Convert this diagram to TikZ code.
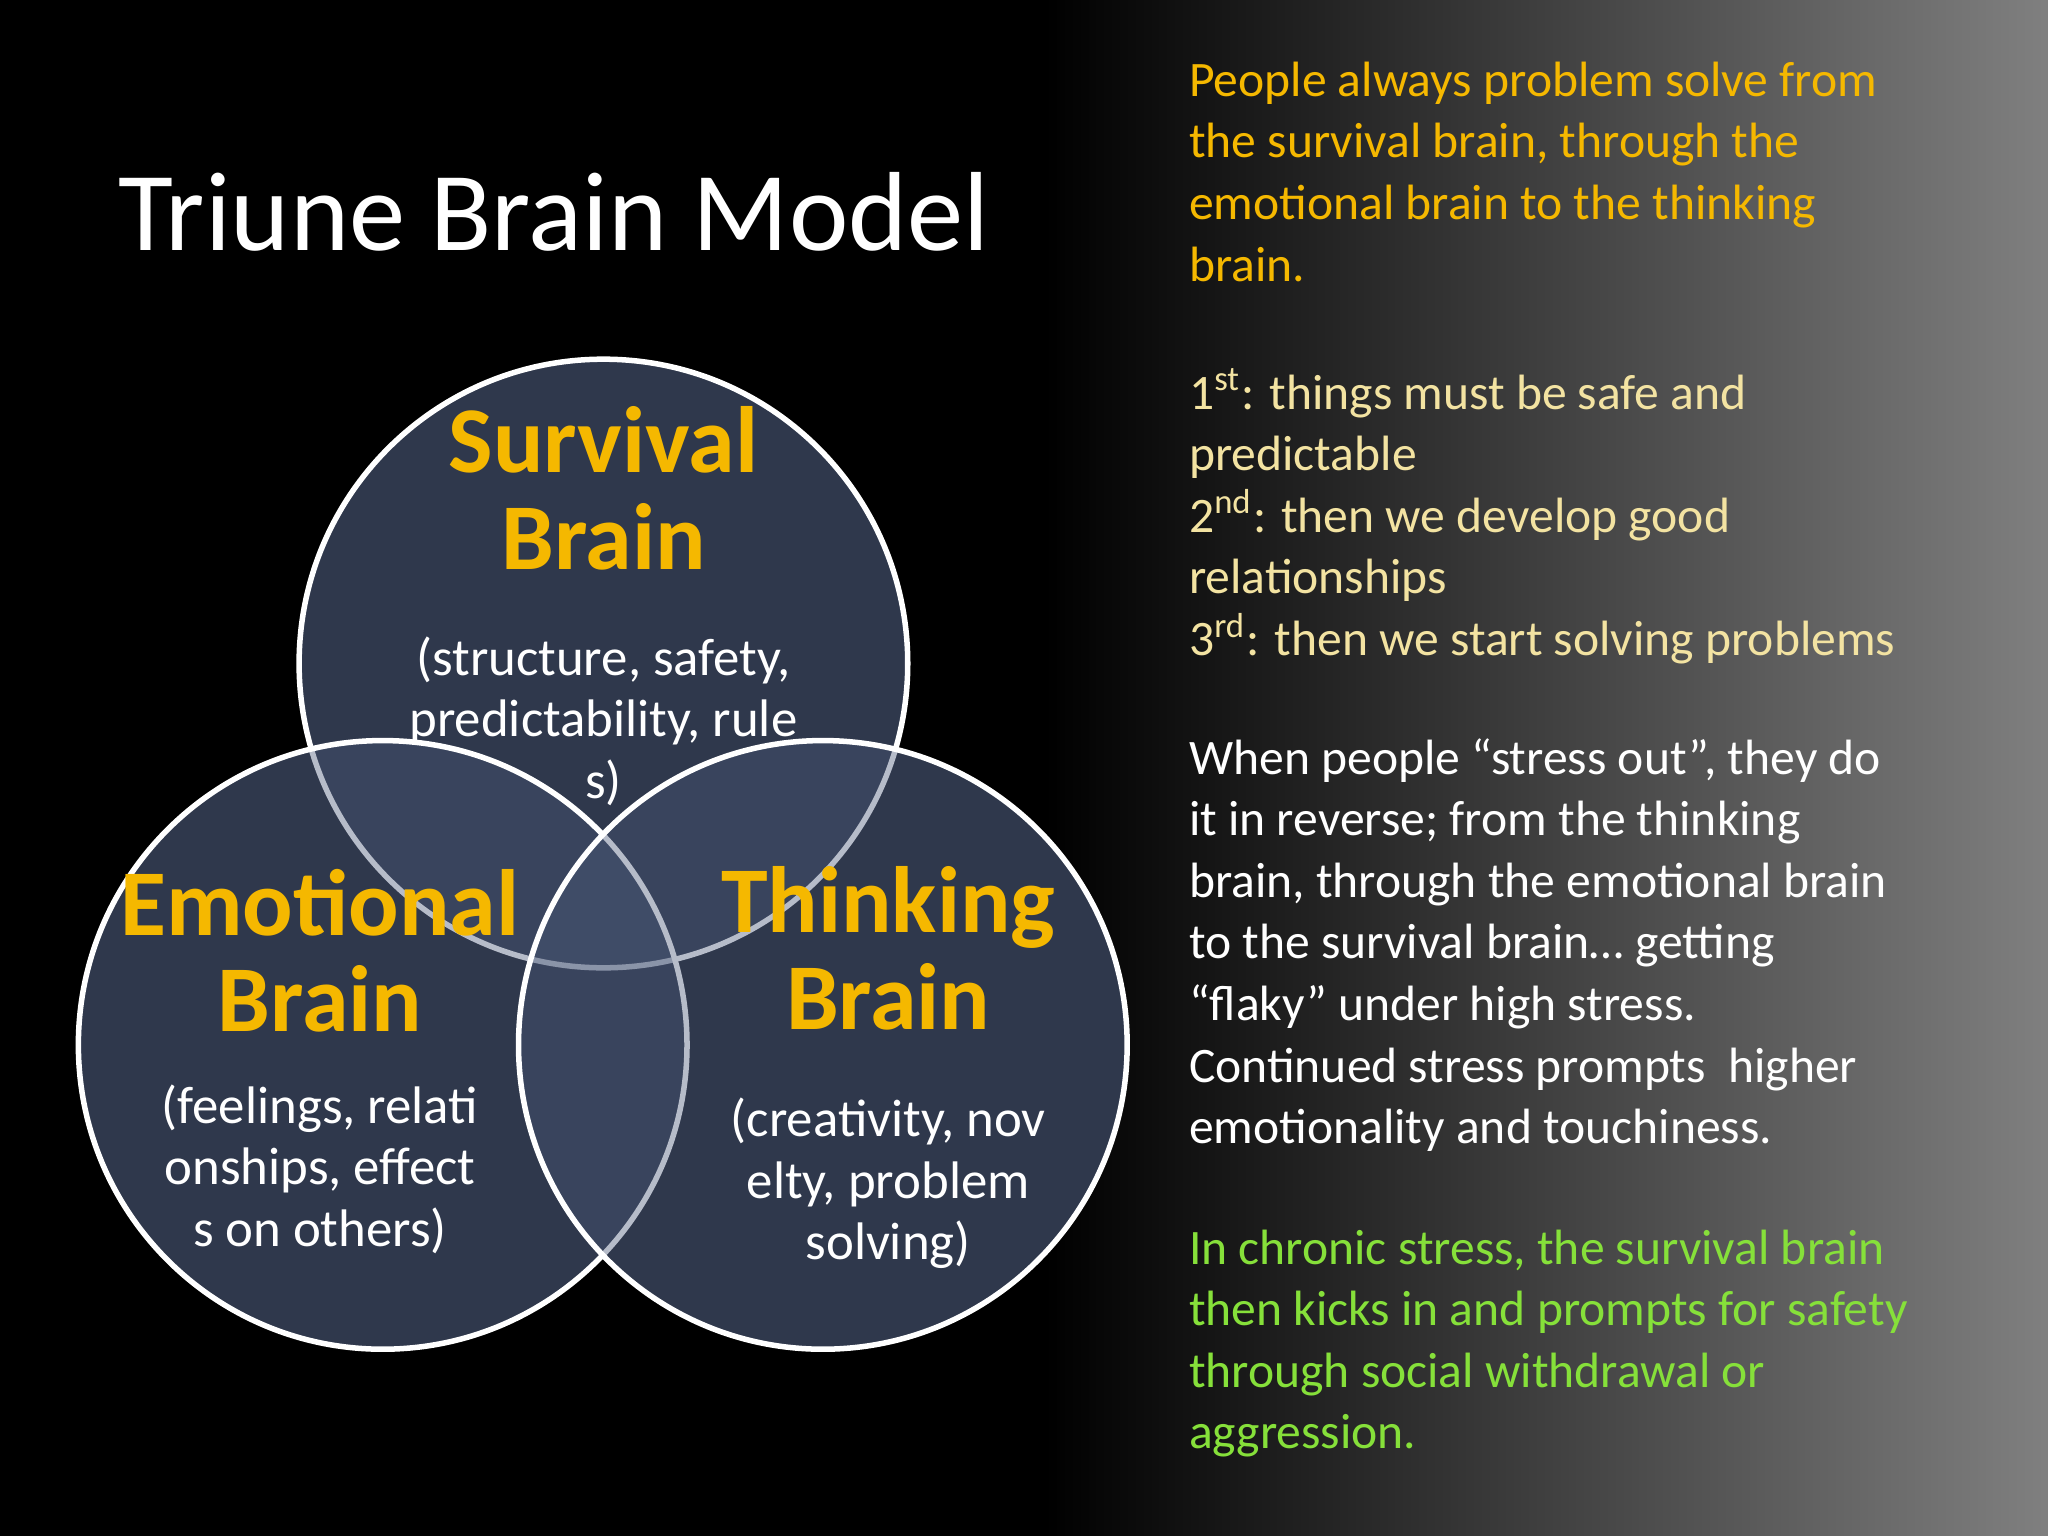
\documentclass[tikz,border=0pt]{standalone}
\usepackage{fontspec}
\setmainfont{Carlito}
\definecolor{gold}{HTML}{F5B800}
\definecolor{pale}{HTML}{F3E3A2}
\definecolor{grn}{HTML}{86E03A}
\definecolor{disc}{HTML}{4A5878}
\definecolor{base}{HTML}{1E2330}
\begin{document}
\begin{tikzpicture}[x=0.01cm,y=-0.01cm,
  circ/.style={draw=white,line width=1.2pt,fill=disc,fill opacity=0.4},
  head/.style={text=gold,font=\fontsize{20.5}{21}\selectfont\bfseries,align=center},
  sub/.style={text=white,font=\fontsize{11.5}{13.4}\selectfont,align=center},
  para/.style={anchor=north west,align=left,font=\fontsize{10.8}{13.4}\selectfont}]
\useasboundingbox (0,0) rectangle (1568,1176);
\fill[black] (0,0) rectangle (1568,1176);
\shade[left color=black,right color=black!50!white] (800,0) rectangle (1568,1176);
\node[anchor=west,text=white,font=\fontsize{24.5}{25}\selectfont] (title) at (78,162) {Triune Brain Model};
\fill[base] (462,508) circle (233) (293,800) circle (233) (630,800) circle (233);
\draw[circ] (462,508) circle (233);
\draw[circ] (293,800) circle (233);
\draw[circ] (630,800) circle (233);
\node[head] (sv) at (462,374) {Survival\\Brain};
\node[sub] (svs) at (462,552) {(structure, safety,\\predictability, rule\\s)};
\node[head] (em) at (245,728) {Emotional\\Brain};
\node[sub] (ems) at (245,895) {(feelings, relati\\onships, effect\\s on others)};
\node[head] (th) at (680,726) {Thinking\\Brain};
\node[sub] (ths) at (680,906) {(creativity, nov\\elty, problem\\solving)};
\node[para,text=gold] (p1) at (898,35) {People always problem solve from\\the survival brain, through the\\emotional brain to the thinking\\brain.};
\node[para,text=pale] (p2) at (898,270) {1\textsuperscript{st}: things must be safe and\\predictable\\2\textsuperscript{nd}: then we develop good\\relationships\\3\textsuperscript{rd}: then we start solving problems};
\node[para,text=white] (p3) at (898,553) {When people “stress out”, they do\\it in reverse; from the thinking\\brain, through the emotional brain\\to the survival brain… getting\\“flaky” under high stress.\\Continued stress prompts\ \ higher\\emotionality and touchiness.};
\node[para,text=grn] (p4) at (898,929) {In chronic stress, the survival brain\\then kicks in and prompts for safety\\through social withdrawal or\\aggression.};
\end{tikzpicture}
\end{document}
